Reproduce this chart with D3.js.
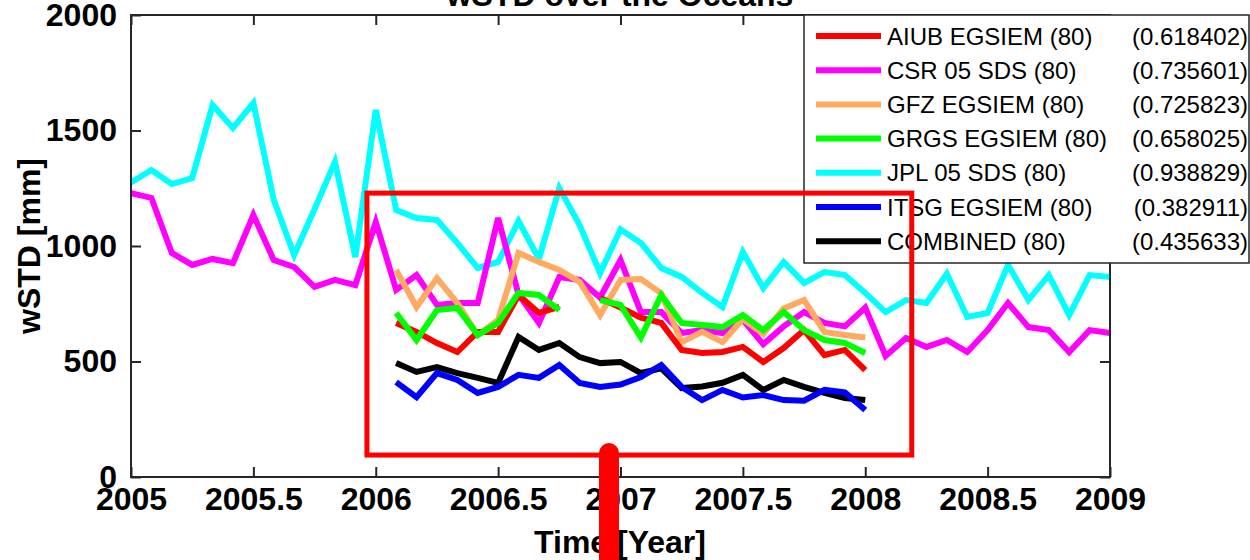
<!DOCTYPE html>
<html>
<head>
<meta charset="utf-8">
<script src="https://cdn.jsdelivr.net/npm/d3@7"></script>
<style>
  body { margin: 0; background: #fff; }
  svg { display: block; font-family: "Liberation Sans", Arial, sans-serif; }
</style>
</head>
<body>
<script>
// monthly wSTD values [mm]; long series start Jan 2005, short ones Feb 2006
const longStart = 2005;
const shortStart = 2006 + 1 / 12;

const jplValues = [1275, 1329, 1268, 1294, 1610, 1511, 1619, 1199, 961, 1160, 1364, 952,
  1589, 1156, 1121, 1113, 1013, 905, 931, 1108, 944, 1251, 1090, 883,
  1072, 1013, 905, 866, 797, 736, 974, 818, 931, 840, 887, 874,
  797, 714, 766, 753, 880, 693, 710, 918, 766, 874, 701, 874, 866];
const csrValues = [1229, 1208, 970, 918, 944, 926, 1134, 939, 909, 823, 853, 831,
  1104, 810, 874, 745, 753, 753, 1121, 790, 667, 866, 853, 777,
  939, 714, 714, 623, 636, 623, 680, 575, 652, 714, 667, 652,
  733, 524, 602, 563, 593, 541, 636, 753, 649, 636, 541, 636, 623];
const aiubValues = [667, 628, 580, 541, 628, 628, 788, 710, 736, null, 775, 734,
  690, 667, 550, 537, 541, 563, 498, 558, 636, 528, 550, 463];
const gfzValues = [896, 736, 861, 753, 615, 680, 970, 931, 896, 844, 701, 853,
  857, 795, 584, 628, 584, 684, 620, 730, 766, 628, 615, 604];
const grgsValues = [710, 593, 723, 732, 615, 667, 797, 788, 723, null, 766, 745,
  604, 788, 667, 658, 649, 701, 636, 714, 636, 593, 580, 537];
const itsgValues = [411, 346, 450, 420, 364, 390, 442, 429, 485, 407, 390, 400,
  433, 485, 390, 333, 377, 344, 355, 333, 330, 377, 366, 290];
const combinedValues = [493, 455, 476, 450, 429, 407, 606, 550, 580, 519, 493, 498,
  450, 470, 385, 392, 408, 442, 377, 420, 390, 364, 342, 333];

const seriesNames = ['AIUB EGSIEM (80)', 'CSR 05 SDS (80)', 'GFZ EGSIEM (80)', 'GRGS EGSIEM (80)',
  'JPL 05 SDS (80)', 'ITSG EGSIEM (80)', 'COMBINED (80)'];
const seriesScores = ['(0.618402)', '(0.735601)', '(0.725823)', '(0.658025)',
  '(0.938829)', '(0.382911)', '(0.435633)'];
const seriesColors = ['#ff0000', '#ff00ff', '#ffaa60', '#00ff00', '#00ffff', '#0000ff', '#000000'];

const xTicks = [2005, 2005.5, 2006, 2006.5, 2007, 2007.5, 2008, 2008.5, 2009];
const yTicks = [0, 500, 1000, 1500, 2000];

// red highlight annotation (data coords)
const boxX = [2005.964, 2008.19];
const boxY = [95, 1229];
const markerX = 2006.953;
const markerY = [104, -400];

const toPoints = (vals, start) => vals.map((v, i) => ({ t: start + i / 12, v }));
// draw order as in the figure: long ones first
const series = [
  { name: 'JPL', pts: toPoints(jplValues, longStart), color: seriesColors[4] },
  { name: 'CSR', pts: toPoints(csrValues, longStart), color: seriesColors[1] },
  { name: 'GFZ', pts: toPoints(gfzValues, shortStart), color: seriesColors[2] },
  { name: 'AIUB', pts: toPoints(aiubValues, shortStart), color: seriesColors[0] },
  { name: 'GRGS', pts: toPoints(grgsValues, shortStart), color: seriesColors[3] },
  { name: 'COMBINED', pts: toPoints(combinedValues, shortStart), color: seriesColors[6] },
  { name: 'ITSG', pts: toPoints(itsgValues, shortStart), color: seriesColors[5] }
];

const W = 1250, H = 560;
const margin = { top: 15, right: 140, bottom: 83, left: 131 };
const plotW = W - margin.left - margin.right;
const plotH = H - margin.top - margin.bottom;

const x = d3.scaleLinear().domain([2005, 2009]).range([margin.left, margin.left + plotW]);
const y = d3.scaleLinear().domain([0, 2000]).range([margin.top + plotH, margin.top]);

const svg = d3.select('body').append('svg').attr('width', W).attr('height', H);

// title (cut off at the top like the source)
svg.append('text')
  .attr('x', 620).attr('y', 6)
  .attr('text-anchor', 'middle')
  .attr('font-size', 32).attr('font-weight', 'bold')
  .text('wSTD over the Oceans');

// lines
const line = d3.line()
  .defined(d => d.v !== null)
  .x(d => x(d.t)).y(d => y(d.v));

svg.append('g').selectAll('path')
  .data(series)
  .join('path')
  .attr('d', d => line(d.pts))
  .attr('fill', 'none')
  .attr('stroke', d => d.color)
  .attr('stroke-width', 6)
  .attr('stroke-linejoin', 'miter');

// axes box and ticks
const axisColor = '#262626';
const tickSize = 10;
const gAx = svg.append('g');
gAx.append('rect')
  .attr('x', margin.left).attr('y', margin.top)
  .attr('width', plotW).attr('height', plotH)
  .attr('fill', 'none').attr('stroke', axisColor).attr('stroke-width', 2);

const bottomAxis = d3.axisBottom(x).tickValues(xTicks).tickSize(-tickSize).tickFormat(d3.format('')).tickPadding(6);
const topAxis = d3.axisTop(x).tickValues(xTicks).tickSize(-tickSize).tickFormat('');
const leftAxis = d3.axisLeft(y).tickValues(yTicks).tickSize(-tickSize).tickFormat(d3.format('d')).tickPadding(14);
const rightAxis = d3.axisRight(y).tickValues(yTicks).tickSize(-tickSize).tickFormat('');

const styleAxis = g => {
  g.select('.domain').remove();
  g.selectAll('line').attr('stroke', axisColor).attr('stroke-width', 2);
  g.selectAll('text').attr('fill', '#000').attr('font-weight', 'bold')
    .attr('font-family', '"Liberation Sans", Arial, sans-serif');
};

gAx.append('g').attr('transform', `translate(0,${margin.top + plotH})`).call(bottomAxis).call(styleAxis)
  .selectAll('text').attr('font-size', 32).attr('dy', '0.85em');
gAx.append('g').attr('transform', `translate(0,${margin.top})`).call(topAxis).call(styleAxis);
gAx.append('g').attr('transform', `translate(${margin.left},0)`).call(leftAxis).call(styleAxis)
  .selectAll('text').attr('font-size', 32);
gAx.append('g').attr('transform', `translate(${margin.left + plotW},0)`).call(rightAxis).call(styleAxis);

// axis labels
svg.append('text')
  .attr('x', 620).attr('y', 553)
  .attr('text-anchor', 'middle')
  .attr('font-size', 32).attr('font-weight', 'bold')
  .text('Time [Year]');
svg.append('text')
  .attr('transform', `translate(40,${margin.top + plotH / 2}) rotate(-90)`)
  .attr('text-anchor', 'middle')
  .attr('font-size', 32).attr('font-weight', 'bold')
  .text('wSTD [mm]');

// legend
const leg = svg.append('g').attr('transform', 'translate(804,15)');
leg.append('rect')
  .attr('width', 445).attr('height', 248)
  .attr('fill', '#fff').attr('stroke', axisColor).attr('stroke-width', 1.5);
const rows = leg.selectAll('g.row')
  .data(seriesNames.map((n, i) => ({ n, s: seriesScores[i], c: seriesColors[i] })))
  .join('g').attr('class', 'row')
  .attr('transform', (d, i) => `translate(0,${21 + i * 34.2})`);
rows.append('line')
  .attr('x1', 12).attr('x2', 77)
  .attr('stroke', d => d.c).attr('stroke-width', 6);
rows.append('text')
  .attr('x', 83).attr('dy', '0.36em')
  .attr('font-size', 24)
  .text(d => d.n);
rows.append('text')
  .attr('x', 444).attr('dy', '0.36em')
  .attr('text-anchor', 'end')
  .attr('font-size', 24)
  .text(d => d.s);

// red highlight annotation on top
svg.append('rect')
  .attr('x', x(boxX[0])).attr('y', y(boxY[1]))
  .attr('width', x(boxX[1]) - x(boxX[0]))
  .attr('height', y(boxY[0]) - y(boxY[1]))
  .attr('fill', 'none').attr('stroke', '#ff0000').attr('stroke-width', 5);
svg.append('line')
  .attr('x1', x(markerX)).attr('x2', x(markerX))
  .attr('y1', y(markerY[0])).attr('y2', y(markerY[1]))
  .attr('stroke', '#ff0000').attr('stroke-width', 20).attr('stroke-linecap', 'round');
</script>
</body>
</html>
